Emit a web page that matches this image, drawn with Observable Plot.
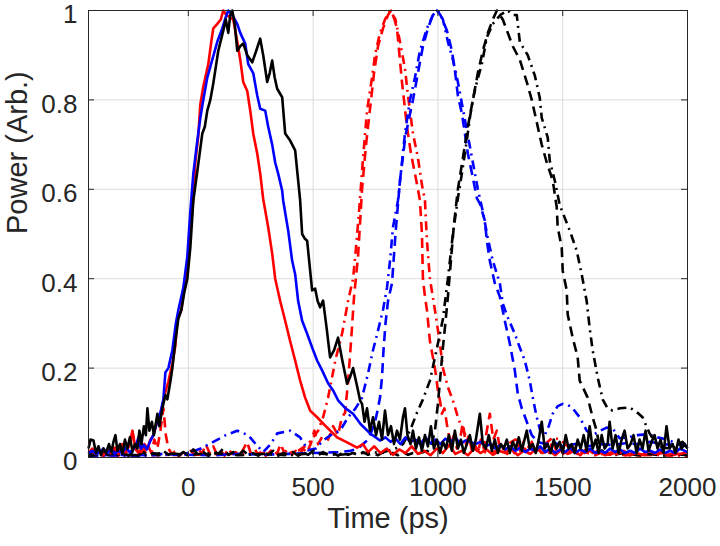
<!DOCTYPE html>
<html><head><meta charset="utf-8">
<script src="https://cdn.jsdelivr.net/npm/d3@7"></script>
<script src="https://cdn.jsdelivr.net/npm/@observablehq/plot@0.6"></script>
<style>body{margin:0;background:#fff}</style>
</head><body><div id="chart"></div>
<script>
// [time (ps), power]
const redSolid = [[-400,0.01],[-385,0.02],[-370,0.008],[-355,0.015],[-340,0.005],[-325,0.018],[-310,0.01],[-295,0.022],[-280,0.008],[-265,0.03],[-250,0.012],[-238,0.025],[-224,0.06],[-212,0.02],[-200,0.035],[-188,0.012],[-176,0.03],[-164,0.02],[-152,0.04],[-140,0.05],[-125,0.08],[-110,0.1],[-95,0.14],[-80,0.17],[-64,0.21],[-52,0.25],[-44,0.31],[-36,0.32],[-28,0.33],[-16,0.38],[-4,0.42],[8,0.5],[20,0.58],[28,0.66],[40,0.72],[48,0.79],[60,0.83],[72,0.86],[80,0.88],[92,0.93],[100,0.96],[116,0.97],[130,0.98],[140,1.0],[152,0.99],[166,0.985],[180,0.98],[196,0.93],[208,0.89],[220,0.84],[236,0.82],[248,0.776],[260,0.725],[276,0.68],[288,0.635],[300,0.578],[320,0.515],[336,0.456],[348,0.4],[368,0.35],[388,0.306],[408,0.26],[428,0.217],[448,0.172],[468,0.134],[488,0.105],[516,0.09],[556,0.067],[596,0.045],[636,0.034],[676,0.022],[700,0.03],[720,0.012],[745,0.025],[770,0.01],[795,0.02],[820,0.006],[845,0.018],[870,0.01],[895,0.025],[920,0.008],[945,0.015],[970,0.005],[995,0.02],[1020,0.01],[1045,0.028],[1070,0.008],[1095,0.015],[1120,0.005],[1145,0.02],[1170,0.01],[1195,0.018],[1220,0.006],[1245,0.015],[1270,0.01],[1295,0.02],[1320,0.005],[1345,0.015],[1370,0.008],[1395,0.02],[1420,0.01],[1445,0.015],[1470,0.005],[1495,0.018],[1520,0.008],[1545,0.015],[1570,0.005],[1595,0.02],[1620,0.01],[1645,0.015],[1670,0.005],[1695,0.012],[1720,0.008],[1745,0.015],[1770,0.005],[1795,0.01],[1820,0.006],[1845,0.015],[1870,0.008],[1895,0.012],[1920,0.005],[1945,0.01],[1970,0.008],[2000,0.012]];

const blueSolid = [[-400,0.01],[-385,0.015],[-370,0.008],[-355,0.012],[-340,0.02],[-325,0.01],[-310,0.018],[-295,0.008],[-280,0.015],[-265,0.01],[-250,0.022],[-235,0.012],[-220,0.018],[-208,0.03],[-200,0.045],[-190,0.02],[-178,0.028],[-166,0.018],[-154,0.035],[-140,0.05],[-125,0.08],[-112,0.1],[-100,0.13],[-92,0.19],[-80,0.2],[-64,0.24],[-50,0.3],[-40,0.33],[-20,0.38],[-4,0.45],[8,0.55],[20,0.635],[34,0.7],[48,0.76],[60,0.8],[76,0.85],[96,0.89],[116,0.93],[136,0.96],[150,0.985],[160,1.0],[176,0.99],[196,0.97],[208,0.95],[228,0.926],[240,0.88],[260,0.86],[276,0.81],[288,0.78],[308,0.776],[320,0.74],[336,0.7],[348,0.66],[360,0.635],[376,0.597],[380,0.575],[400,0.508],[416,0.44],[428,0.41],[440,0.35],[456,0.306],[476,0.277],[496,0.246],[516,0.217],[536,0.195],[560,0.166],[580,0.15],[600,0.128],[630,0.11],[660,0.098],[690,0.075],[728,0.054],[768,0.038],[790,0.045],[810,0.035],[830,0.042],[850,0.03],[870,0.045],[890,0.035],[910,0.04],[930,0.03],[950,0.045],[970,0.032],[990,0.04],[1010,0.03],[1030,0.042],[1050,0.035],[1070,0.045],[1090,0.03],[1110,0.038],[1130,0.035],[1150,0.03],[1170,0.035],[1190,0.025],[1210,0.03],[1230,0.02],[1250,0.028],[1270,0.018],[1290,0.025],[1310,0.015],[1330,0.022],[1350,0.012],[1370,0.02],[1390,0.015],[1410,0.025],[1430,0.012],[1450,0.02],[1470,0.01],[1490,0.018],[1510,0.012],[1530,0.022],[1550,0.01],[1570,0.018],[1590,0.012],[1610,0.02],[1630,0.01],[1650,0.015],[1670,0.01],[1690,0.02],[1710,0.012],[1730,0.018],[1750,0.01],[1770,0.015],[1790,0.01],[1810,0.02],[1830,0.012],[1850,0.015],[1870,0.01],[1890,0.018],[1910,0.01],[1930,0.015],[1950,0.01],[1970,0.02],[2000,0.012]];

const blackSolid = [[-400,0.02],[-392,0.04],[-380,0.038],[-370,0.01],[-360,0.025],[-350,0.005],[-340,0.02],[-330,0.01],[-318,0.03],[-308,0.012],[-300,0.035],[-292,0.05],[-284,0.015],[-274,0.03],[-264,0.008],[-254,0.04],[-244,0.02],[-234,0.045],[-224,0.015],[-214,0.03],[-204,0.02],[-196,0.06],[-188,0.03],[-178,0.07],[-170,0.05],[-164,0.11],[-156,0.06],[-146,0.08],[-138,0.05],[-124,0.098],[-116,0.07],[-104,0.11],[-92,0.14],[-84,0.13],[-72,0.17],[-64,0.2],[-52,0.26],[-40,0.31],[-28,0.33],[-16,0.37],[-4,0.4],[8,0.47],[20,0.575],[36,0.64],[56,0.725],[66,0.74],[76,0.776],[88,0.8],[100,0.837],[120,0.91],[140,0.955],[150,0.98],[160,0.95],[168,0.99],[176,1.0],[186,0.97],[196,0.91],[208,0.92],[220,0.926],[236,0.9],[256,0.884],[272,0.91],[288,0.937],[300,0.9],[316,0.84],[326,0.86],[336,0.888],[346,0.85],[356,0.825],[376,0.806],[388,0.725],[408,0.709],[428,0.687],[440,0.62],[448,0.575],[456,0.5],[466,0.49],[476,0.485],[496,0.374],[508,0.378],[518,0.35],[528,0.336],[540,0.351],[554,0.29],[568,0.224],[584,0.24],[600,0.268],[616,0.22],[636,0.165],[648,0.18],[660,0.2],[676,0.16],[688,0.128],[696,0.12],[706,0.08],[716,0.11],[728,0.06],[740,0.09],[752,0.05],[764,0.08],[776,0.04],[788,0.105],[800,0.05],[812,0.07],[824,0.03],[836,0.06],[848,0.04],[860,0.09],[868,0.11],[878,0.05],[890,0.03],[900,0.06],[912,0.02],[924,0.045],[936,0.015],[948,0.05],[960,0.025],[972,0.07],[984,0.02],[996,0.04],[1008,0.01],[1020,0.035],[1032,0.02],[1044,0.05],[1056,0.015],[1068,0.06],[1080,0.02],[1092,0.04],[1104,0.01],[1116,0.03],[1128,0.05],[1140,0.015],[1152,0.04],[1168,0.098],[1180,0.03],[1192,0.02],[1204,0.05],[1216,0.015],[1228,0.04],[1240,0.01],[1252,0.03],[1264,0.02],[1276,0.04],[1288,0.01],[1300,0.035],[1312,0.02],[1324,0.045],[1336,0.015],[1356,0.06],[1368,0.02],[1380,0.03],[1392,0.01],[1404,0.04],[1416,0.08],[1428,0.02],[1440,0.03],[1452,0.01],[1464,0.04],[1476,0.02],[1488,0.035],[1500,0.01],[1512,0.05],[1524,0.02],[1536,0.03],[1548,0.01],[1560,0.04],[1572,0.02],[1584,0.05],[1596,0.015],[1608,0.07],[1620,0.02],[1632,0.04],[1644,0.01],[1656,0.05],[1668,0.02],[1680,0.03],[1688,0.08],[1700,0.02],[1712,0.05],[1724,0.01],[1736,0.04],[1748,0.06],[1760,0.02],[1772,0.03],[1784,0.05],[1796,0.01],[1808,0.04],[1820,0.02],[1832,0.06],[1844,0.015],[1856,0.035],[1868,0.05],[1880,0.02],[1892,0.04],[1904,0.01],[1916,0.07],[1928,0.02],[1940,0.03],[1952,0.01],[1964,0.04],[1976,0.02],[1988,0.03],[2000,0.02]];

const redDashed = [[-400,0.005],[-385,0.012],[-370,0.004],[-355,0.01],[-340,0.003],[-325,0.015],[-310,0.006],[-295,0.01],[-280,0.004],[-265,0.02],[-250,0.008],[-236,0.035],[-224,0.06],[-214,0.02],[-200,0.01],[-186,0.03],[-172,0.012],[-160,0.025],[-148,0.01],[-136,0.04],[-124,0.02],[-112,0.06],[-100,0.11],[-90,0.05],[-80,0.02],[-66,0.008],[-50,0.015],[-35,0.005],[-20,0.012],[-5,0.004],[10,0.015],[25,0.006],[40,0.02],[55,0.008],[70,0.03],[85,0.01],[100,0.025],[115,0.006],[130,0.015],[145,0.004],[160,0.02],[175,0.008],[190,0.012],[205,0.004],[220,0.018],[235,0.035],[250,0.01],[265,0.02],[280,0.006],[295,0.015],[310,0.004],[325,0.012],[340,0.02],[355,0.008],[370,0.03],[385,0.01],[400,0.02],[415,0.006],[430,0.015],[445,0.005],[460,0.02],[475,0.01],[490,0.03],[505,0.06],[520,0.03],[540,0.05],[560,0.04],[580,0.07],[600,0.05],[615,0.09],[628,0.1],[640,0.17],[652,0.26],[664,0.36],[680,0.45],[696,0.6],[712,0.7],[728,0.78],[744,0.86],[760,0.92],[780,0.96],[800,0.99],[812,1.0],[826,0.98],[836,0.96],[846,0.9],[856,0.84],[866,0.79],[876,0.74],[892,0.68],[908,0.635],[920,0.6],[928,0.575],[936,0.5],[940,0.4],[948,0.36],[956,0.33],[968,0.26],[978,0.23],[988,0.2],[1000,0.15],[1008,0.128],[1016,0.098],[1026,0.11],[1040,0.06],[1052,0.03],[1064,0.05],[1076,0.02],[1088,0.04],[1100,0.076],[1112,0.03],[1124,0.05],[1136,0.015],[1148,0.03],[1160,0.01],[1172,0.04],[1184,0.02],[1196,0.06],[1208,0.098],[1222,0.04],[1236,0.06],[1250,0.015],[1264,0.02],[1278,0.008],[1292,0.025],[1306,0.01],[1320,0.03],[1334,0.008],[1348,0.02],[1362,0.01],[1376,0.035],[1390,0.012],[1404,0.02],[1418,0.006],[1432,0.03],[1446,0.01],[1460,0.04],[1474,0.015],[1488,0.025],[1502,0.008],[1516,0.02],[1530,0.01],[1544,0.03],[1558,0.008],[1572,0.02],[1586,0.01],[1600,0.015],[1630,0.005],[1660,0.012],[1690,0.006],[1720,0.015],[1750,0.005],[1780,0.01],[1810,0.004],[1840,0.012],[1870,0.006],[1900,0.01],[1930,0.004],[1960,0.008],[2000,0.005]];

const redDashDot = [[-400,0.003],[-300,0.005],[-200,0.004],[-100,0.006],[0,0.005],[100,0.008],[200,0.006],[300,0.01],[380,0.008],[440,0.015],[480,0.03],[520,0.06],[540,0.09],[560,0.134],[590,0.22],[616,0.277],[640,0.35],[660,0.4],[672,0.47],[684,0.55],[700,0.67],[716,0.776],[736,0.85],[748,0.9],[768,0.95],[788,0.98],[808,1.0],[830,0.98],[848,0.93],[868,0.87],[880,0.81],[900,0.725],[920,0.67],[936,0.61],[948,0.575],[956,0.485],[968,0.4],[988,0.33],[1008,0.255],[1020,0.2],[1040,0.157],[1060,0.128],[1080,0.09],[1100,0.06],[1120,0.04],[1140,0.025],[1170,0.015],[1200,0.01],[1240,0.015],[1280,0.03],[1310,0.04],[1340,0.035],[1370,0.02],[1400,0.015],[1430,0.03],[1460,0.045],[1490,0.04],[1520,0.025],[1560,0.015],[1600,0.01],[1700,0.006],[1800,0.005],[1900,0.006],[2000,0.004]];

const blueDashed = [[-400,0.004],[-300,0.006],[-200,0.005],[-100,0.008],[0,0.006],[100,0.005],[200,0.008],[300,0.006],[400,0.008],[500,0.01],[600,0.012],[650,0.015],[680,0.02],[700,0.03],[720,0.04],[735,0.06],[748,0.08],[760,0.11],[768,0.134],[776,0.18],[782,0.24],[790,0.3],[800,0.35],[816,0.39],[830,0.5],[848,0.62],[870,0.72],[900,0.8],[920,0.86],[940,0.92],[960,0.96],[980,0.99],[996,1.0],[1010,0.99],[1036,0.955],[1056,0.91],[1068,0.866],[1080,0.81],[1096,0.77],[1108,0.725],[1120,0.68],[1140,0.626],[1156,0.58],[1168,0.568],[1188,0.53],[1196,0.485],[1208,0.44],[1228,0.39],[1248,0.36],[1268,0.306],[1288,0.255],[1308,0.195],[1320,0.143],[1336,0.11],[1356,0.08],[1376,0.05],[1400,0.035],[1430,0.03],[1460,0.035],[1500,0.025],[1550,0.03],[1600,0.025],[1650,0.03],[1700,0.028],[1750,0.032],[1800,0.03],[1850,0.035],[1900,0.03],[1950,0.028],[2000,0.025]];

const blueDashDot = [[-400,0.004],[-300,0.005],[-200,0.004],[-100,0.006],[-40,0.006],[0,0.01],[50,0.02],[100,0.035],[150,0.05],[196,0.06],[240,0.05],[270,0.03],[300,0.012],[330,0.03],[356,0.054],[408,0.06],[448,0.045],[480,0.016],[510,0.02],[540,0.038],[570,0.05],[608,0.06],[640,0.09],[670,0.11],[696,0.134],[720,0.188],[740,0.24],[760,0.284],[780,0.33],[796,0.38],[808,0.44],[820,0.515],[840,0.575],[856,0.66],[868,0.725],[888,0.8],[908,0.85],[928,0.91],[956,0.96],[980,0.99],[1000,1.0],[1020,0.98],[1040,0.93],[1060,0.89],[1080,0.84],[1100,0.78],[1120,0.72],[1140,0.66],[1160,0.6],[1180,0.55],[1200,0.49],[1220,0.44],[1248,0.39],[1260,0.344],[1280,0.313],[1308,0.277],[1328,0.246],[1348,0.217],[1368,0.172],[1380,0.134],[1396,0.09],[1410,0.06],[1428,0.05],[1444,0.07],[1460,0.098],[1480,0.115],[1500,0.12],[1520,0.118],[1540,0.11],[1568,0.09],[1596,0.06],[1620,0.05],[1650,0.06],[1676,0.067],[1700,0.065],[1728,0.043],[1760,0.045],[1800,0.05],[1840,0.052],[1880,0.045],[1920,0.04],[1960,0.03],[2000,0.03]];

const blackDashed = [[-400,0.006],[-380,0.015],[-360,0.004],[-340,0.012],[-320,0.005],[-300,0.018],[-280,0.006],[-260,0.01],[-240,0.004],[-220,0.015],[-200,0.005],[-180,0.012],[-160,0.004],[-140,0.01],[-120,0.005],[-100,0.015],[-80,0.006],[-60,0.01],[-40,0.004],[-20,0.012],[0,0.006],[20,0.018],[40,0.006],[60,0.012],[80,0.004],[100,0.015],[120,0.008],[140,0.02],[160,0.006],[180,0.012],[200,0.004],[220,0.015],[240,0.006],[260,0.01],[280,0.004],[300,0.012],[320,0.006],[340,0.015],[360,0.004],[380,0.01],[400,0.006],[420,0.012],[440,0.004],[460,0.01],[480,0.006],[500,0.015],[520,0.005],[540,0.012],[560,0.006],[580,0.01],[600,0.004],[620,0.012],[640,0.006],[660,0.01],[680,0.005],[700,0.012],[720,0.006],[740,0.01],[760,0.005],[780,0.012],[800,0.006],[820,0.01],[840,0.005],[860,0.012],[880,0.006],[900,0.01],[920,0.008],[940,0.012],[960,0.015],[975,0.03],[988,0.06],[1000,0.12],[1008,0.17],[1020,0.246],[1028,0.29],[1040,0.36],[1052,0.44],[1064,0.52],[1080,0.6],[1100,0.67],[1120,0.74],[1140,0.8],[1160,0.86],[1180,0.91],[1200,0.95],[1220,0.98],[1236,1.0],[1260,0.98],[1280,0.95],[1300,0.92],[1328,0.89],[1356,0.84],[1376,0.8],[1396,0.75],[1416,0.7],[1436,0.66],[1460,0.62],[1476,0.56],[1480,0.515],[1496,0.47],[1500,0.418],[1516,0.374],[1520,0.32],[1540,0.268],[1560,0.224],[1568,0.172],[1600,0.134],[1620,0.09],[1636,0.06],[1648,0.02],[1670,0.01],[1700,0.006],[1750,0.01],[1800,0.005],[1850,0.008],[1900,0.004],[1950,0.008],[2000,0.005]];

const blackDashDot = [[-400,0.004],[-300,0.008],[-200,0.005],[-100,0.01],[0,0.006],[100,0.01],[200,0.005],[300,0.008],[400,0.005],[500,0.01],[600,0.006],[700,0.01],[780,0.012],[830,0.02],[860,0.03],[888,0.06],[916,0.1],[940,0.13],[968,0.172],[1000,0.255],[1020,0.31],[1040,0.4],[1060,0.5],[1080,0.58],[1096,0.635],[1108,0.68],[1116,0.71],[1128,0.76],[1140,0.8],[1156,0.84],[1176,0.88],[1196,0.94],[1220,0.97],[1250,0.99],[1280,1.0],[1300,0.99],[1316,0.99],[1328,0.93],[1360,0.9],[1388,0.855],[1408,0.805],[1416,0.76],[1440,0.716],[1448,0.664],[1468,0.62],[1488,0.565],[1528,0.508],[1556,0.463],[1576,0.41],[1596,0.35],[1608,0.29],[1620,0.24],[1640,0.18],[1660,0.13],[1680,0.11],[1700,0.105],[1730,0.11],[1768,0.112],[1800,0.1],[1820,0.09],[1848,0.054],[1870,0.035],[1900,0.022],[1940,0.02],[1980,0.035],[2000,0.02]];

const xTicks = [0, 500, 1000, 1500, 2000];
const yTicks = [0, 0.2, 0.4, 0.6, 0.8, 1];
const xLabel = "Time (ps)";
const yLabel = "Power (Arb.)";

const DASH = "10,6", DASHDOT = "9,5,2,5";
const series = [
  {data: redDashDot, color: "#ff0000", dash: DASHDOT},
  {data: redDashed, color: "#ff0000", dash: DASH},
  {data: blueDashDot, color: "#0000ff", dash: DASHDOT},
  {data: blueDashed, color: "#0000ff", dash: DASH},
  {data: blackDashDot, color: "#000000", dash: DASHDOT},
  {data: blackDashed, color: "#000000", dash: DASH},
  {data: redSolid, color: "#ff0000", dash: null},
  {data: blueSolid, color: "#0000ff", dash: null},
  {data: blackSolid, color: "#000000", dash: null}
];

const W = 720, H = 546, mL = 88, mR = 33, mT = 10, mB = 89;
const innerW = W - mL - mR, innerH = H - mT - mB, tk = 6;
const ink = "#262626";

const chart = Plot.plot({
  width: W, height: H,
  marginLeft: mL, marginRight: mR, marginTop: mT, marginBottom: mB,
  style: {fontFamily: '"Liberation Sans", Arial, Helvetica, sans-serif', background: "#fff", color: ink},
  x: {domain: [-400, 2000]},
  y: {domain: [0, 1]},
  marks: [
    Plot.gridX(xTicks, {stroke: "#dcdcdc", strokeOpacity: 1}),
    Plot.gridY(yTicks, {stroke: "#dcdcdc", strokeOpacity: 1}),
    ...series.map(s => Plot.line(s.data, {
      x: d => d[0], y: d => d[1], stroke: s.color, strokeWidth: 2.6,
      strokeDasharray: s.dash || undefined, strokeLinejoin: "round", strokeLinecap: "butt"
    })),
    Plot.frame({stroke: ink, strokeWidth: 1}),
    Plot.ruleX(xTicks, {x: d => d, insetTop: innerH - tk, stroke: ink}),
    Plot.ruleX(xTicks, {x: d => d, insetBottom: innerH - tk, stroke: ink}),
    Plot.ruleY(yTicks, {y: d => d, insetRight: innerW - tk, stroke: ink}),
    Plot.ruleY(yTicks, {y: d => d, insetLeft: innerW - tk, stroke: ink}),
    Plot.axisX(xTicks, {tickSize: 0, tickPadding: 20, fontSize: 26, tickFormat: d => String(d), label: null, fill: ink}),
    Plot.axisY(yTicks, {tickSize: 0, tickPadding: 11, dy: 4.5, fontSize: 26, tickFormat: d => String(d), label: null, fill: ink}),
    Plot.text([xLabel], {frameAnchor: "bottom", dy: 70, fontSize: 29, fill: ink}),
    Plot.text([yLabel], {frameAnchor: "left", dx: -71, rotate: -90, fontSize: 29, fill: ink})
  ]
});
document.getElementById("chart").appendChild(chart);
</script>
</body></html>
